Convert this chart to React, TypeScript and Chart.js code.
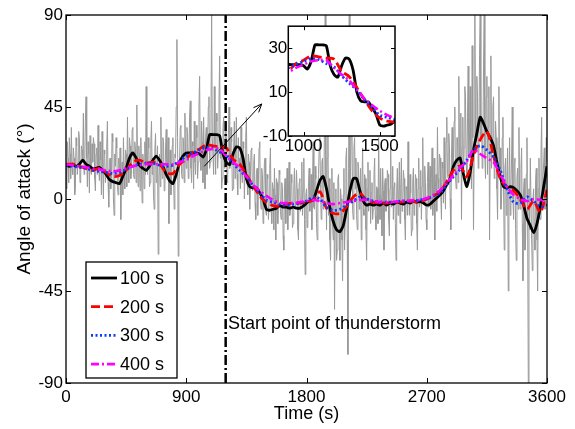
import React, { useEffect, useRef } from "react";
import { Chart, registerables } from "chart.js";

Chart.register(...registerables);

const FONT = "'Liberation Sans', Arial, sans-serif";

// Axis ticks
const xTicks = [0, 900, 1800, 2700, 3600];
const yTicks = [-90, -45, 0, 45, 90];
const insetXTicks = [1000, 1500];
const insetYTicks = [-10, 10, 30];

const legendLabels = ["100 s", "200 s", "300 s", "400 s"];
const xTitle = "Time (s)";
const yTitle = "Angle of attack (°)";
const annotationText = "Start point of thunderstorm";

// Start of thunderstorm (s)
const stormStart = 1195;

// Raw angle of attack, sampled every 5 s (gray)
const rawStep = 5;
const rawAoA = [
  17, 5, 28, 20, 8, 30, 22, 10, 35, 15, 12, 25, 20, 2, 5, 30, 26, 12, 18, 33,
  30, 8, 10, 26, 24, 18, 42, 12, 15, 38, 50, 20, 6, 28, 22, 3, 31, 14, 12, 27,
  18, 30, 27, 10, 4, 22, 25, 12, 36, 16, 9, 28, 19, 2, 33, 15, 0, 24, 22, 8,
  14, 26, 38, 8, -4, 18, 20, 5, 10, 32, 28, 0, -8, 22, 16, 30, 25, 6, 2, 20,
  12, 25, -10, 8, 18, 2, 30, 14, 5, 24, 22, 6, 40, 16, 8, 30, 26, 10, 14, 34,
  35, 12, 10, 28, 24, 8, 46, 20, 6, 26, 20, 4, 30, 15, -2, 22, 18, 5, 28, 12,
  55, 18, 12, 30, 25, 6, 8, 28, 38, 12, 20, 2, -5, 24, 32, 8, 14, 26, -27, 10,
  22, 6, 40, 18, 10, 30, 28, 4, 5, 25, 34, 12, 15, 30, -12, 10, 24, 2, 8, 26,
  30, 10, -5, 22, 20, 45, 78, 30, -28, 5, 18, 35, 36, 12, 10, 30, 28, 8, 42, 20,
  15, 35, 32, 10, 20, 40, 48, 15, 8, 28, 26, 5, 38, 18, 12, 36, 30, 10, 18, 45,
  60, 20, 14, 38, 28, 8, 40, 22, 5, 30, 35, 12, 22, 45, 50, 15, 18, 40, 90, 30,
  30, 12, 55, 25, 12, 42, 38, 15, 22, 48, 70, 20, 25, 5, 10, 35, 40, 15, 20, 38,
  32, 8, 10, 30, 45, 15, 18, 35, 28, 4, 5, 25, 38, 10, 22, 40, 12, 2, 30, 15,
  20, 5, 35, 12, 8, 28, 25, 0, 15, 30, 40, 10, 2, 22, 18, -5, 10, 24, 25, 4,
  5, 18, 22, -2, -10, 12, 15, -8, 8, 25, 28, 0, -5, 15, 12, -12, 0, 18, 20, -6,
  -8, 12, 10, -10, -3, 15, 25, -5, -12, 8, 5, -15, 15, 2, -20, 10, 8, -12, -2, 14,
  12, -6, -10, 8, 5, -18, -25, 6, 10, -12, 0, 15, -15, 4, 18, -8, -5, 12, 8, -14,
  -12, 6, 15, -5, -3, 14, 5, -15, -20, 8, 10, -6, 0, 18, -8, 4, 20, -10, -37, 2,
  5, -14, -10, 8, 15, -6, 0, 12, -15, 5, 28, -4, -5, 16, 10, -12, -20, 6, 12, 25,
  30, 5, -10, 18, 20, -5, 5, 40, 90, 10, -15, 20, 35, -8, 10, -20, -30, 5, 15, -12,
  -20, 8, -54, -10, 5, -30, -25, 10, 12, -15, -30, 5, 0, -20, -40, 2, 15, -25, -10, 20,
  25, -20, -76, 15, 90, 0, 10, 35, 40, -5, -10, 25, 30, 5, 20, -8, -15, 18, 15, -5,
  5, 15, -20, 6, 25, -5, -8, 12, 10, -15, -30, 5, 18, -6, 0, 14, -12, 3, 8, -10,
  -5, 12, 20, -8, -15, 6, 5, -12, 30, 2, -10, 15, 0, -18, 15, 4, -25, 8, 10, -6,
  -3, 14, 12, -10, -18, 5, 25, -4, 0, 16, -10, 6, 8, -12, -30, 4, 15, -8, 2, 18,
  -12, 5, 20, -6, -5, 14, 10, -10, -20, 6, 5, -8, 28, 0, -8, 12, 3, -18, -15, 8,
  15, -8, -5, 12, 10, -12, -25, 5, 20, -4, 0, 14, -10, 6, 30, -2, -3, 16, 8, -10,
  -15, 8, 18, -4, 5, 16, -5, 10, 25, -8, 0, 20, -20, 6, 12, -6, 35, 10, 5, 22,
  20, 2, -10, 18, 15, -2, 30, 8, -5, 28, 40, 12, 10, 32, 25, 0, -15, 20, 35, 10,
  20, 38, 45, 12, 5, 30, 30, 8, 60, 22, 15, 42, -10, 25, 40, 10, 25, 55, 50, 18,
  10, 40, 65, 20, 30, 55, 20, 5, 75, 30, -15, 25, 90, 30, 35, 60, 50, 15, 20, 70,
  90, 30, 40, 15, 25, 65, 90, 20, 10, 50, 60, 12, 35, 55, -20, 25, 70, 15, 30, 45,
  50, 10, 15, 38, 30, 5, -10, 28, 55, 12, 25, -5, 0, 30, 40, 5, -25, 15, 20, -8,
  10, 25, -45, 5, 30, -8, 5, 20, 45, 0, -10, 18, 20, -15, -30, 10, 15, -5, 35, 0,
  -5, 15, 25, -12, -40, 5, 10, -25, -20, 12, 30, -10, -90, 5, -15, 20, 20, -20, -35, 0,
  5, -15, -25, 10, 15, -20, -45, 5, 20, -8, -10, 22, 40, 0, 0, 18, 25, -5, 10, 30,
  18,
];

// 100 s average, every 25 s
const step100 = 25;
const aoa100 = [
  16.6, 16, 17, 16, 17, 19, 17, 16, 15, 15,
  15.5, 14, 12, 9.5, 8.5, 8, 7.5, 11, 15, 20,
  22.5, 20, 16.5, 15, 14, 16, 19, 21, 19, 16,
  12, 9, 7.5, 12, 18, 21, 22.5, 22.5, 22.5, 22.5,
  22, 20.5, 24, 31.5, 31.5, 31.5, 31, 22, 18, 16.8,
  22, 25.5, 25, 20, 10, 6, 5.5, 5.5, 3, 0,
  -5, -5.5, -5, -4.5, -3.2, -4, -4, -4.5, -4, -4.5,
  -4.5, -3.5, -2, -1, -0.5, 4, 9, 11, 5, -4,
  -11, -15, -16, -13, -5, 4, 10, 10, 4, -1,
  -3, -2.5, -3, -2.5, -3, -2, -3, -2, -2.5, -1.5,
  -2, -2.5, -1.5, -2, -1, -1.5, -1.3, -2, -3, -2.5,
  -1, 0.5, 2, 4, 7, 10, 16, 19, 20, 12,
  6, 13, 24, 32, 40, 37, 33, 30, 26, 18,
  11, 6, 5.5, 6, 5.5, 4, 2, -3, -9.5, -13,
  -16.5, -12, -4, 6, 16,
];

// 200 s, 300 s, 400 s averages, every 50 s
const stepSmooth = 50;
const aoa200 = [
  17, 17, 16, 15, 14, 15, 13, 11, 11.5, 14,
  18, 19, 17.5, 18, 17, 13, 12.5, 17, 19.5, 23,
  24.5, 26.5, 26, 25.5, 25, 19.5, 17, 12, 6.5, 1.5,
  -1.8, -3.2, -3.5, -2.5, -2, -2, -1.5, -0.5, 3.6, -4.5,
  -7, -7, -3.7, 1, 2.8, -0.5, -1.5, -2, -2, -1.5,
  -1.5, -1.3, -1.3, -1.3, 0, 1.5, 3.6, 8.5, 14, 16,
  11, 21.5, 29, 33, 21, 10, 6, 4, 0, -5,
  -1, -6.5, 4.5,
];
const aoa300 = [
  16.5, 16, 15.5, 15, 14, 13.5, 13, 12.5, 13, 14.5,
  16, 17, 17.5, 17.5, 16.5, 16, 16.5, 18.5, 21, 22.5,
  24, 25.2, 24.8, 23, 21.5, 17.5, 14, 11, 6.5, 3,
  -0.5, -1.5, -2.5, -3, -2.5, -2, -1, 1, 0, -4,
  -5.5, -5, -3, -1, 1, 0, -1, -1.5, -1.5, -1.5,
  -1, -1, -1, -0.5, 0, 1.5, 3, 7, 11, 14.5,
  19, 24, 26, 24, 20.5, 14, 5, -1.5, -2, 1,
  -1, -3.7, -3,
];
const aoa400 = [
  17, 16.5, 16, 15.5, 15, 14.5, 14, 13.5, 14, 15,
  16, 16.5, 17, 17, 17, 17, 17, 18, 19, 21,
  22.5, 24, 24.5, 24.5, 21, 18, 15.3, 11, 7, 4,
  1.5, -0.5, -1.8, -2, -2, -1.5, -1, -0.5, -1, -2,
  -2.5, -2, -1.5, -1, -0.5, -0.5, -1, -1.5, -1.5, -1.5,
  -1, -1, -0.5, -0.5, 0.5, 2, 4.4, 8, 11.7, 15.5,
  18.3, 24, 22, 19.9, 18, 12, 6, 2, 0, -1,
  0, -0.5, -0.5,
];

// Annotation anchors in data units
const arrowTail = { x: 1035, y: 16 };
const arrowHead = { x: 1465, y: 46.5 };
const annotationAt = { x: 1212, y: -61 };

const seriesStyles = [
  { color: "#000000", dash: [] as number[], width: 2.8, tension: 0.2 },
  { color: "#ff0000", dash: [9, 4], width: 2.8, tension: 0.3 },
  { color: "#0a3cff", dash: [2, 2.5], width: 2.8, tension: 0.3 },
  { color: "#ff00ff", dash: [8, 3, 2, 3], width: 2.6, tension: 0.3 },
];

const toPoints = (vals: number[], step: number) => vals.map((v, i) => ({ x: i * step, y: v }));

function smoothDatasets() {
  const sets = [
    toPoints(aoa100, step100),
    toPoints(aoa200, stepSmooth),
    toPoints(aoa300, stepSmooth),
    toPoints(aoa400, stepSmooth),
  ];
  return sets.map((data, i) => ({
    label: legendLabels[i],
    data,
    borderColor: seriesStyles[i].color,
    borderDash: seriesStyles[i].dash,
    borderWidth: seriesStyles[i].width,
    pointRadius: 0,
    tension: seriesStyles[i].tension,
    fill: false,
    order: 5 - i,
  }));
}

function drawInwardTicks(chart: any, xs: number[], ys: number[], len: number) {
  const { ctx, chartArea: a, scales } = chart;
  ctx.beginPath();
  for (const v of xs) {
    const px = Math.round(scales.x.getPixelForValue(v)) + 0.5;
    ctx.moveTo(px, a.bottom);
    ctx.lineTo(px, a.bottom - len);
    ctx.moveTo(px, a.top);
    ctx.lineTo(px, a.top + len);
  }
  for (const v of ys) {
    const py = Math.round(scales.y.getPixelForValue(v)) + 0.5;
    ctx.moveTo(a.left, py);
    ctx.lineTo(a.left + len, py);
    ctx.moveTo(a.right, py);
    ctx.lineTo(a.right - len, py);
  }
  ctx.stroke();
}

const mainDecor = {
  id: "mainDecor",
  afterDraw(chart: any) {
    const { ctx, chartArea: a, scales } = chart;
    const X = (v: number) => scales.x.getPixelForValue(v);
    const Y = (v: number) => scales.y.getPixelForValue(v);
    ctx.save();
    ctx.strokeStyle = "#000";
    ctx.lineWidth = 1;
    drawInwardTicks(chart, xTicks, yTicks, 5);
    ctx.lineWidth = 1.3;
    ctx.strokeRect(a.left, a.top, a.right - a.left, a.bottom - a.top);

    // arrow
    const x0 = X(arrowTail.x), y0 = Y(arrowTail.y);
    const x1 = X(arrowHead.x), y1 = Y(arrowHead.y);
    const ang = Math.atan2(y1 - y0, x1 - x0);
    ctx.lineWidth = 1;
    ctx.beginPath();
    ctx.moveTo(x0, y0);
    ctx.lineTo(x1, y1);
    ctx.moveTo(x1, y1);
    ctx.lineTo(x1 - 9 * Math.cos(ang - 0.4), y1 - 9 * Math.sin(ang - 0.4));
    ctx.moveTo(x1, y1);
    ctx.lineTo(x1 - 9 * Math.cos(ang + 0.4), y1 - 9 * Math.sin(ang + 0.4));
    ctx.stroke();

    // annotation
    ctx.fillStyle = "#000";
    ctx.font = `18px ${FONT}`;
    ctx.textAlign = "left";
    ctx.textBaseline = "middle";
    ctx.fillText(annotationText, X(annotationAt.x), Y(annotationAt.y));

    // legend
    const lx = a.left + 20, ly = a.top + 247, lw = 91, lh = 116;
    ctx.fillStyle = "#fff";
    ctx.fillRect(lx, ly, lw, lh);
    ctx.lineWidth = 1.3;
    ctx.strokeStyle = "#000";
    ctx.strokeRect(lx, ly, lw, lh);
    legendLabels.forEach((lab, i) => {
      const yy = ly + 16 + i * 28.7;
      const s = seriesStyles[i];
      ctx.beginPath();
      ctx.setLineDash(s.dash);
      ctx.strokeStyle = s.color;
      ctx.lineWidth = s.width;
      ctx.moveTo(lx + 5, yy);
      ctx.lineTo(lx + 31, yy);
      ctx.stroke();
      ctx.setLineDash([]);
      ctx.fillStyle = "#000";
      ctx.font = `18px ${FONT}`;
      ctx.textAlign = "left";
      ctx.textBaseline = "middle";
      ctx.fillText(lab, lx + 34, yy + 1);
    });
    ctx.restore();
  },
};

const insetDecor = {
  id: "insetDecor",
  beforeDraw(chart: any) {
    const { ctx, chartArea: a } = chart;
    ctx.save();
    ctx.fillStyle = "#fff";
    ctx.fillRect(a.left, a.top, a.right - a.left, a.bottom - a.top);
    ctx.restore();
  },
  afterDraw(chart: any) {
    const { ctx, chartArea: a } = chart;
    ctx.save();
    ctx.strokeStyle = "#000";
    ctx.lineWidth = 1;
    drawInwardTicks(chart, insetXTicks, insetYTicks, 4);
    ctx.lineWidth = 1.5;
    ctx.strokeRect(a.left, a.top, a.right - a.left, a.bottom - a.top);
    ctx.restore();
  },
};

const tickFont = { family: FONT, size: 17 };
const plainLabel = (v: any) => String(v);

export default function App() {
  const mainRef = useRef<HTMLCanvasElement>(null);
  const insetRef = useRef<HTMLCanvasElement>(null);

  useEffect(() => {
    const main = new Chart(mainRef.current!, {
      type: "line",
      data: {
        datasets: [
          {
            label: "storm",
            data: [
              { x: stormStart, y: -90 },
              { x: stormStart, y: 90 },
            ],
            borderColor: "#000",
            borderWidth: 2.5,
            borderDash: [10, 3, 2, 3],
            pointRadius: 0,
            order: 0,
          },
          ...smoothDatasets(),
          {
            label: "raw",
            data: toPoints(rawAoA, rawStep),
            borderColor: "#999999",
            borderWidth: 1,
            pointRadius: 0,
            tension: 0,
            order: 10,
          },
        ] as any,
      },
      options: {
        animation: false,
        responsive: false,
        devicePixelRatio: 1,
        layout: { padding: { left: 0, right: 28, top: 15, bottom: 0 } },
        plugins: { legend: { display: false }, tooltip: { enabled: false } },
        scales: {
          x: {
            type: "linear",
            min: 0,
            max: 3600,
            afterBuildTicks: (s: any) => {
              s.ticks = xTicks.map((v) => ({ value: v }));
            },
            afterFit: (s: any) => {
              s.height = 46;
            },
            grid: { display: false, drawTicks: false },
            border: { display: false },
            ticks: { font: tickFont, color: "#000", padding: 4, maxRotation: 0, autoSkip: false, callback: plainLabel },
            title: {
              display: true,
              text: xTitle,
              color: "#000",
              font: { family: FONT, size: 18 },
              padding: { top: 0, bottom: 4 },
            },
          },
          y: {
            type: "linear",
            min: -90,
            max: 90,
            afterBuildTicks: (s: any) => {
              s.ticks = yTicks.map((v) => ({ value: v }));
            },
            afterFit: (s: any) => {
              s.width = 66;
            },
            grid: { display: false, drawTicks: false },
            border: { display: false },
            ticks: { font: tickFont, color: "#000", padding: 3, autoSkip: false, callback: plainLabel },
            title: {
              display: true,
              text: yTitle,
              color: "#000",
              font: { family: FONT, size: 19 },
              padding: { top: 13.6, bottom: 0 },
            },
          },
        },
      } as any,
      plugins: [mainDecor],
    });

    const inset = new Chart(insetRef.current!, {
      type: "line",
      data: { datasets: smoothDatasets() as any },
      options: {
        animation: false,
        responsive: false,
        devicePixelRatio: 1,
        layout: { padding: { left: 0, right: 15, top: 7.7, bottom: 0 } },
        plugins: { legend: { display: false }, tooltip: { enabled: false } },
        scales: {
          x: {
            type: "linear",
            min: 900,
            max: 1600,
            afterBuildTicks: (s: any) => {
              s.ticks = insetXTicks.map((v) => ({ value: v }));
            },
            afterFit: (s: any) => {
              s.height = 29;
            },
            grid: { display: false, drawTicks: false },
            border: { display: false },
            ticks: { font: tickFont, color: "#000", padding: 0, maxRotation: 0, autoSkip: false, callback: plainLabel },
          },
          y: {
            type: "linear",
            min: -10,
            max: 40,
            afterBuildTicks: (s: any) => {
              s.ticks = insetYTicks.map((v) => ({ value: v }));
            },
            afterFit: (s: any) => {
              s.width = 38.3;
            },
            grid: { display: false, drawTicks: false },
            border: { display: false },
            ticks: { font: tickFont, color: "#000", padding: 1, autoSkip: false, callback: plainLabel },
          },
        },
      } as any,
      plugins: [insetDecor],
    });

    return () => {
      main.destroy();
      inset.destroy();
    };
  }, []);

  return (
    <div style={{ position: "fixed", left: 0, top: 0, width: 575, height: 429, background: "#fff" }}>
      <canvas ref={mainRef} width={575} height={429} style={{ position: "absolute", left: 0, top: 0 }} />
      <canvas ref={insetRef} width={160} height={150} style={{ position: "absolute", left: 250, top: 15 }} />
    </div>
  );
}
